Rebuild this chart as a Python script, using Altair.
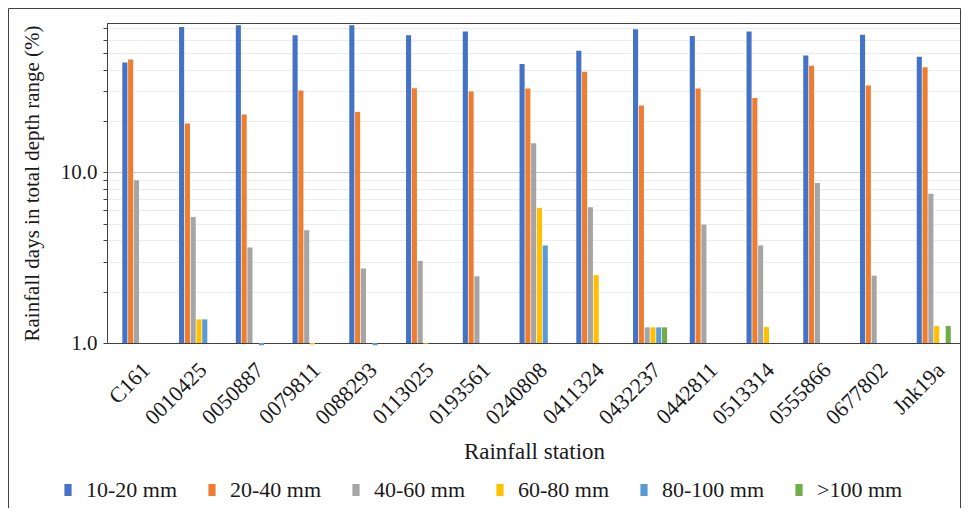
import altair as alt
import pandas as pd

stations = ["C161", "0010425", "0050887", "0079811", "0088293", "0113025", "0193561",
            "0240808", "0411324", "0432237", "0442811", "0513314", "0555866", "0677802", "Jnk19a"]

series = ["10-20 mm", "20-40 mm", "40-60 mm", "60-80 mm", "80-100 mm", ">100 mm"]
colors = ["#4472C4", "#ED7D31", "#A5A5A5", "#FFC000", "#5B9BD5", "#70AD47"]

r10_20 = [44.0, 71.1, 72.7, 63.5, 72.7, 63.5, 66.8, 43.2, 51.5, 68.9, 63.0, 66.8, 48.3, 64.1, 47.5]
r20_40 = [45.8, 19.3, 21.8, 30.2, 22.6, 31.1, 29.8, 31.0, 38.9, 24.6, 31.0, 27.3, 42.1, 32.3, 41.3]
r40_60 = [9.0, 5.48, 3.63, 4.58, 2.73, 3.03, 2.46, 14.8, 6.24, 1.235, 4.94, 3.73, 8.66, 2.48, 7.50]
r60_80 = [None, 1.375, None, 0.98, None, 0.99, None, 6.18, 2.50, 1.235, None, 1.24, None, None, 1.257]
r80_100 = [None, 1.375, 0.97, None, 0.97, None, None, 3.73, None, 1.235, None, None, None, None, None]
r100 = [None, None, None, None, None, None, None, None, None, 1.235, None, None, None, None, 1.257]

y_ticks = [1, 2, 3, 4, 5, 6, 7, 8, 9, 10, 20, 30, 40, 50, 60, 70]

rows = []
for name, vals in zip(series, [r10_20, r20_40, r40_60, r60_80, r80_100, r100]):
    for st, v in zip(stations, vals):
        if v is not None:
            rows.append({"station": st, "series": name, "value": v})
df = pd.DataFrame(rows)

FONT = "Liberation Serif"
DARK = "#404040"
TEXT = "#1a1a1a"

bars = alt.Chart(df).mark_bar().encode(
    x=alt.X("station:N", sort=stations,
            scale=alt.Scale(paddingInner=0.4, paddingOuter=0.225, align=0.6),
            axis=alt.Axis(title="Rainfall station", labelAngle=-45, labelAlign="right",
                          labelBaseline="top", labelPadding=16, ticks=False, tickSize=0,
                          labelFontSize=22, titleFontSize=23, titlePadding=12,
                          labelFont=FONT, titleFont=FONT,
                          domainColor=DARK, labelColor=TEXT, titleColor=TEXT)),
    xOffset=alt.XOffset("series:N", sort=series,
                        scale=alt.Scale(domain=series, paddingInner=0.12, paddingOuter=0)),
    y=alt.Y("value:Q",
            scale=alt.Scale(type="log", domain=[1, 75], nice=False),
            axis=alt.Axis(title="Rainfall days in total depth range (%)", values=y_ticks,
                          labelExpr="datum.value == 1 || datum.value == 10 ? format(datum.value, '.1f') : ''",
                          tickSize=4, tickColor=DARK, domainColor=DARK, labelPadding=6,
                          labelFontSize=21, titleFontSize=21, titlePadding=18,
                          labelFont=FONT, titleFont=FONT,
                          labelColor=TEXT, titleColor=TEXT,
                          gridColor={"condition": {"test": "datum.value === 10", "value": "#c8c8c8"},
                                     "value": "#ececec"})),
    y2=alt.datum(1),
    color=alt.Color("series:N", sort=series,
                    scale=alt.Scale(domain=series, range=colors),
                    legend=alt.Legend(title=None, orient="none", direction="horizontal",
                                      legendX=-50, legendY=456, padding=0,
                                      symbolType="M-0.6,-1H0.6V1H-0.6Z", symbolSize=144,
                                      symbolStrokeWidth=0, labelOffset=7, columnPadding=23,
                                      labelFontSize=22, labelFont=FONT, labelColor=TEXT)),
)

frame = alt.Chart(pd.DataFrame({"k": [0]})).mark_rect(
    fillOpacity=0, stroke=DARK, strokeWidth=1
).encode(
    x=alt.value(-98.5), x2=alt.value(853.5), y=alt.value(-14.5), y2=alt.value(700)
)

chart = alt.layer(bars, frame).properties(
    width=854, height=320,
    autosize=alt.AutoSizeParams(type="none"),
    padding={"left": 99, "top": 15, "right": 0, "bottom": 165},
).configure(
    font=FONT
).configure_view(
    stroke=DARK, strokeWidth=1
).configure_axis(
    labelFont=FONT, titleFont=FONT, titleFontWeight="normal"
).configure_legend(
    labelFont=FONT
)

chart.save("out.html", embed_options={"renderer": "svg", "actions": False})
